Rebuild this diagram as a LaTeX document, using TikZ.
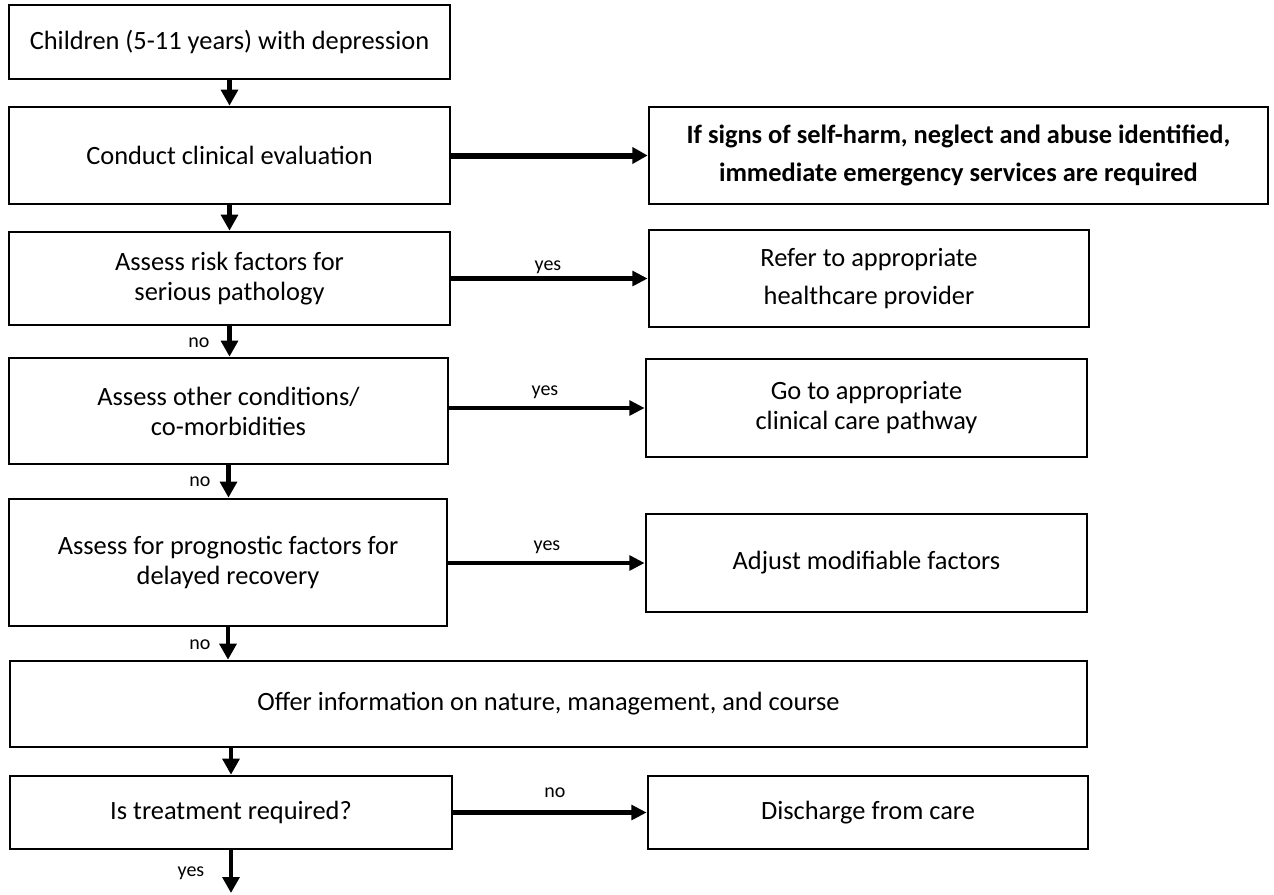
\documentclass[tikz,border=0pt]{standalone}
\usepackage{fontspec}
\setmainfont{Carlito}
\usetikzlibrary{arrows.meta}
\tikzset{
  box/.style={draw, line width=2pt, inner sep=0pt, align=center,
    font=\fontsize{19.8pt}{22.5pt}\selectfont},
  widebox/.style={box, font=\fontsize{19.8pt}{29pt}\selectfont},
  boldbox/.style={box, font=\fontsize{19.8pt}{29pt}\selectfont\bfseries},
  varrow/.style={line width=3.3pt, -{Triangle[length=12pt,width=12.5pt]}},
  harrow/.style={line width=3.3pt, -{Triangle[length=11.5pt,width=11pt]}},
  bigarrow/.style={line width=4.5pt, -{Triangle[length=11.5pt,width=12pt]}},
  lbl/.style={inner sep=0pt, font=\fontsize{15pt}{17pt}\selectfont}
}
\begin{document}
\begin{tikzpicture}[x=0.75pt,y=-0.75pt]
\useasboundingbox (0,0) rectangle (1274,894);
% left column
\node[box, minimum width=330.75pt, minimum height=55.5pt] (b1) at (229.5,42) {Children (5-11 years) with depression};
\node[box, minimum width=330.75pt, minimum height=72.75pt] (b2) at (229.5,155.5) {Conduct clinical evaluation};
\node[box, minimum width=330.75pt, minimum height=69.75pt] (b3) at (229.5,278.5) {Assess risk factors for\\serious pathology};
\node[box, minimum width=329.25pt, minimum height=79.5pt] (b4) at (228.5,411) {Assess other conditions/\\co-morbidities};
\node[box, minimum width=328.5pt, minimum height=95.25pt] (b5) at (228,562.5) {Assess for prognostic factors for\\delayed recovery};
\node[box, minimum width=807.75pt, minimum height=64.5pt] (b6) at (548.5,704) {Offer information on nature, management, and course};
\node[box, minimum width=331.5pt, minimum height=54.75pt] (b7) at (231,812.5) {Is treatment required?};
% right column
\node[boldbox, minimum width=464.25pt, minimum height=72.75pt] (r1) at (958.5,155.5) {If signs of self-harm, neglect and abuse identified,\\immediate emergency services are required};
\node[widebox, minimum width=330pt, minimum height=72.75pt] (r2) at (869,278.5) {Refer to appropriate\\healthcare provider};
\node[box, minimum width=330.75pt, minimum height=73.5pt] (r3) at (866.5,408) {Go to appropriate\\clinical care pathway};
\node[box, minimum width=330.75pt, minimum height=73.5pt] (r4) at (866.5,563) {Adjust modifiable factors};
\node[box, minimum width=330pt, minimum height=54.75pt] (r5) at (868,812.5) {Discharge from care};
\coordinate (end) at (229,893);
% vertical arrows
\draw[varrow] (b1.south) -- (b1.south |- b2.north);
\draw[varrow] (b2.south) -- (b2.south |- b3.north);
\draw[varrow] (b3.south) -- (b3.south |- b4.north);
\draw[varrow] (b4.south) -- (b4.south |- b5.north);
\draw[varrow] (b5.south) -- (b5.south |- b6.north);
\draw[varrow] (b7.north |- b6.south) -- (b7.north);
\draw[varrow] (b7.south) -- (b7.south |- end);
% horizontal arrows
\draw[bigarrow] (b2.east) -- (r1.west);
\draw[harrow] (b3.east |- r2.west) -- (r2.west);
\draw[harrow] (b4.east |- r3.west) -- (r3.west);
\draw[harrow] (b5.east |- r4.west) -- (r4.west);
\draw[harrow] (b7.east |- r5.west) -- (r5.west);
% labels
\node[lbl] (l1) at (548,267) {yes};
\node[lbl] (l2) at (545,392) {yes};
\node[lbl] (l3) at (547,547) {yes};
\node[lbl] (l4) at (555,793) {no};
\node[lbl] (l5) at (199,343) {no};
\node[lbl] (l6) at (200,482) {no};
\node[lbl] (l7) at (200,645) {no};
\node[lbl] (l8) at (191,873) {yes};
\end{tikzpicture}
\end{document}
